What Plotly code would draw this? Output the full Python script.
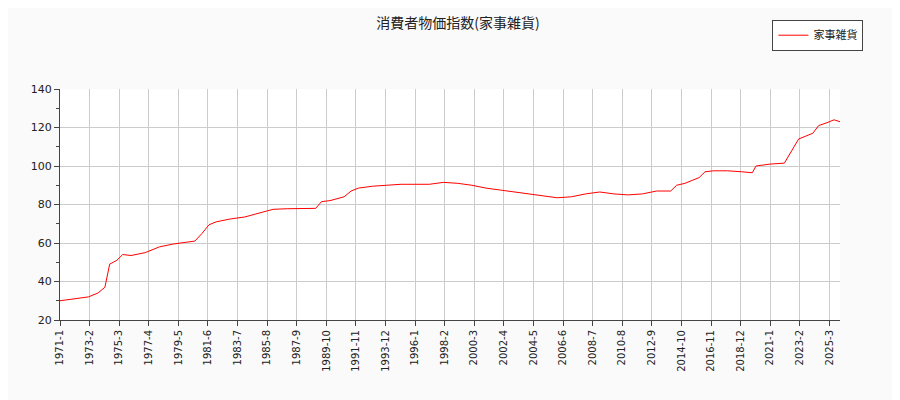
import plotly.graph_objs as go

# points (month, value)
dates = ["1971-01", "1972-01", "1973-01", "1973-09", "1974-03", "1974-07", "1975-01", "1975-06",
         "1976-01", "1977-01", "1978-01", "1979-01", "1980-01", "1980-07", "1981-01", "1981-07",
         "1982-01", "1983-01", "1984-01", "1985-01", "1986-01", "1987-01", "1988-01", "1989-01",
         "1989-06", "1990-01", "1991-01", "1991-07", "1992-01", "1993-01", "1994-01", "1995-01",
         "1996-01", "1997-01", "1998-01", "1999-01", "2000-01", "2001-01", "2002-01", "2003-01",
         "2004-01", "2005-01", "2006-01", "2007-01", "2008-01", "2009-01", "2010-01", "2011-01",
         "2012-01", "2013-01", "2014-01", "2014-06", "2015-01", "2016-01", "2016-06", "2017-01",
         "2018-01", "2019-01", "2019-10", "2020-01", "2021-01", "2022-01", "2022-06", "2023-01",
         "2024-01", "2024-06", "2025-01", "2025-07", "2025-12"]
values = [30, 31, 32, 34, 37, 49, 51, 54,
          53.5, 55, 58, 59.5, 60.5, 61, 65, 69.5,
          71, 72.5, 73.5, 75.5, 77.5, 77.8, 78, 78,
          81.5, 82, 84, 87, 88.5, 89.5, 90, 90.5,
          90.5, 90.5, 91.5, 91, 90, 88.5, 87.5, 86.5,
          85.5, 84.5, 83.5, 84, 85.5, 86.5, 85.5, 85,
          85.5, 87, 87, 90, 91, 94, 97, 97.5,
          97.5, 97, 96.5, 100, 101, 101.5, 107, 114,
          117, 121, 122.5, 124, 123]

tick_labels = ["1971-1", "1973-2", "1975-3", "1977-4", "1979-5", "1981-6", "1983-7", "1985-8",
               "1987-9", "1989-10", "1991-11", "1993-12", "1996-1", "1998-2", "2000-3", "2002-4",
               "2004-5", "2006-6", "2008-7", "2010-8", "2012-9", "2014-10", "2016-11", "2018-12",
               "2021-1", "2023-2", "2025-3"]
tick_vals = ["%s-%02d-01" % tuple(int(p) for p in t.split("-")) for t in tick_labels]

fig = go.Figure()
fig.add_trace(go.Scatter(x=dates, y=values, mode="lines", line=dict(color="red", width=1),
                         name="家事雑貨"))

fig.update_layout(
    width=900, height=400,
    paper_bgcolor="#fafafa", plot_bgcolor="white",
    font=dict(family="DejaVu Sans, Noto Sans CJK JP", size=10, color="#222"),
    title=dict(text="消費者物価指数(家事雑貨)", x=0.5, y=0.975, xanchor="center",
               font=dict(family="Noto Sans CJK JP", size=14)),
    margin=dict(l=52, r=68, t=72, b=88),
    showlegend=True,
    legend=dict(x=1.03, y=1.3, xanchor="right", yanchor="top", bordercolor="#444", borderwidth=1,
                bgcolor="white", font=dict(family="Noto Sans CJK JP", size=11)),
)
fig.update_xaxes(range=["1971-01-01", "2025-12-01"], tickvals=tick_vals, ticktext=tick_labels,
                 tickangle=-90, showgrid=True, gridcolor="#ccc", showline=True, linecolor="#444",
                 ticks="outside", tickfont=dict(size=10))
fig.update_yaxes(range=[20, 140], dtick=20, showgrid=True, gridcolor="#ccc", showline=True,
                 linecolor="#444", ticks="outside", tickfont=dict(size=11),
                 minor=dict(dtick=10, ticks="outside", ticklen=3))

fig.write_html("out.html")
